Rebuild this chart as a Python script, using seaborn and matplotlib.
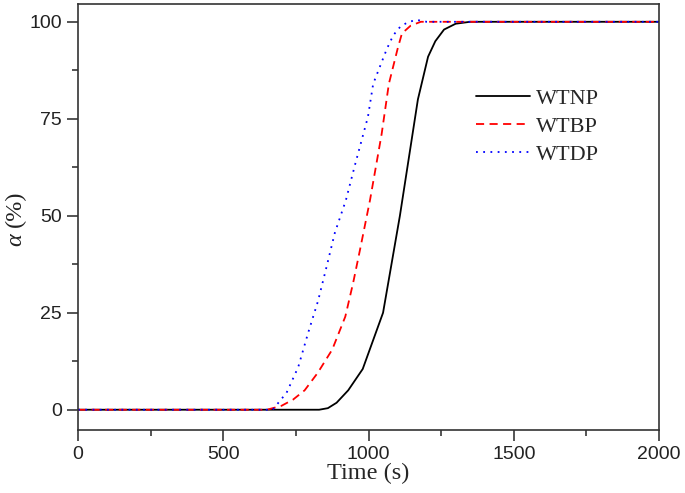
import pandas as pd
import seaborn as sns
import matplotlib.pyplot as plt
from matplotlib.ticker import MultipleLocator, AutoMinorLocator

# Data
t_wtnp = [0, 830, 860, 890, 930, 980, 1050, 1108, 1170, 1205, 1230, 1260, 1300, 1350, 2000]
a_wtnp = [0, 0, 0.4, 1.8, 5, 10.5, 25, 50, 80, 91, 95, 98, 99.5, 100, 100]

t_wtbp = [0, 650, 700, 740, 780, 825, 875, 920, 947, 970, 1005, 1045, 1070, 1100, 1115, 1145, 1180, 2000]
a_wtbp = [0, 0, 1, 2.6, 5, 9.5, 15.5, 24, 32.7, 41, 54, 71, 84, 93, 97, 99, 100, 100]

t_wtdp = [0, 670, 718, 758, 792, 826, 856, 884, 922, 953, 998, 1016, 1063, 1085, 1110, 1136, 1165, 1200, 2000]
a_wtdp = [0, 0, 4.4, 11, 19.8, 28, 37, 45.6, 54, 63, 75.5, 84, 93, 96.5, 98.8, 99.9, 100.5, 100, 100]

series = ['WTNP', 'WTBP', 'WTDP']
colors = ['black', 'red', 'blue']

# Long-form table for seaborn
df = pd.concat([
    pd.DataFrame({'t': t_wtnp, 'a': a_wtnp, 'sample': 'WTNP'}),
    pd.DataFrame({'t': t_wtbp, 'a': a_wtbp, 'sample': 'WTBP'}),
    pd.DataFrame({'t': t_wtdp, 'a': a_wtdp, 'sample': 'WTDP'}),
])

sns.set_style('ticks')
plt.rcParams['font.family'] = 'Liberation Sans'

fig = plt.figure(figsize=(6.85, 4.93), dpi=100)
ax = fig.add_axes([0.114, 0.128, 0.848, 0.864])

sns.lineplot(data=df, x='t', y='a', hue='sample', style='sample',
             hue_order=series, style_order=series,
             palette=dict(zip(series, colors)),
             dashes={'WTNP': '', 'WTBP': (4.5, 3), 'WTDP': (1, 3)},
             linewidth=1.3, ax=ax, sort=False, estimator=None)

ax.set_xlim(0, 2000)
ax.set_ylim(-5.2, 104.6)
ax.xaxis.set_major_locator(MultipleLocator(500))
ax.yaxis.set_major_locator(MultipleLocator(25))
ax.xaxis.set_minor_locator(AutoMinorLocator(2))
ax.yaxis.set_minor_locator(AutoMinorLocator(2))

ax.tick_params(which='major', direction='out', length=8, width=1.1,
               labelsize=14, labelcolor='#222222', top=False, right=False)
ax.tick_params(which='minor', direction='out', length=4.5, width=1.1,
               top=False, right=False)
for s in ax.spines.values():
    s.set_linewidth(1.2)
    s.set_color('#333333')

serif = 'Liberation Serif'
ax.set_xlabel('Time (s)', fontsize=17.5, family=serif, labelpad=0)
ax.set_ylabel('')
# y label: italic alpha plus upright unit, without mathtext
ax.text(-0.108, 0.447, 'α', transform=ax.transAxes, rotation=90,
        ha='center', va='center', rotation_mode='anchor',
        fontsize=17.5, family=serif, style='italic', color='#222222')
ax.text(-0.108, 0.52, '(%)', transform=ax.transAxes, rotation=90,
        ha='center', va='center', rotation_mode='anchor',
        fontsize=17.5, family=serif, color='#222222')

leg = ax.legend(loc='upper left', bbox_to_anchor=(0.67, 0.823), frameon=False,
                prop={'family': serif, 'size': 16}, handlelength=2.4,
                handletextpad=0.3, labelspacing=0.33, borderaxespad=0)

fig.savefig('out.png', dpi=100)
